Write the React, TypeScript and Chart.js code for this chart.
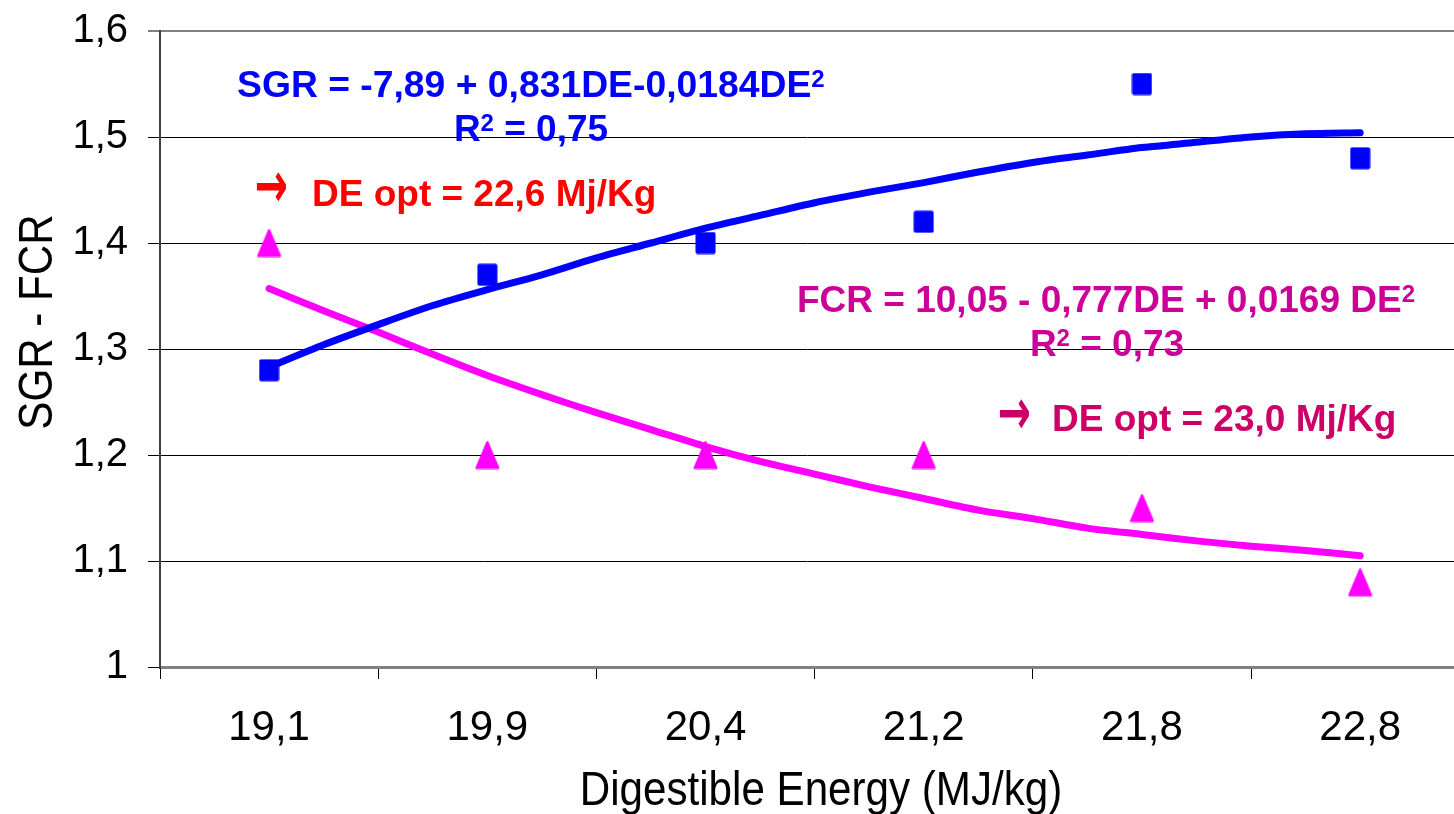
import React, { useEffect, useRef } from 'react';
import { Chart, registerables } from 'chart.js';

Chart.register(...registerables);

// ---------- data ----------
const categories = ['19,1', '19,9', '20,4', '21,2', '21,8', '22,8'];
const categoryIndex = [1, 2, 3, 4, 5, 6];
const sgrValues = [1.28, 1.37, 1.4, 1.42, 1.55, 1.48];
const fcrValues = [1.4, 1.2, 1.2, 1.2, 1.15, 1.08];

// trend lines (x in category-index units)
const trendX = [1, 1.25, 1.5, 1.75, 2, 2.25, 2.5, 2.75, 3, 3.25, 3.5, 3.75, 4, 4.25, 4.5, 4.75, 5, 5.25, 5.5, 5.75, 6];
const sgrTrend = [1.283, 1.304, 1.323, 1.341, 1.356, 1.37, 1.386, 1.4, 1.414, 1.426, 1.438, 1.448, 1.457, 1.467, 1.476, 1.483, 1.49, 1.495, 1.5, 1.503, 1.504];
const fcrTrend = [1.357, 1.336, 1.316, 1.295, 1.275, 1.257, 1.24, 1.224, 1.208, 1.194, 1.182, 1.17, 1.159, 1.148, 1.14, 1.131, 1.125, 1.119, 1.114, 1.11, 1.105];

const yTicks = [1, 1.1, 1.2, 1.3, 1.4, 1.5, 1.6];
const yTickLabels = ['1', '1,1', '1,2', '1,3', '1,4', '1,5', '1,6'];

const xTitle = 'Digestible Energy (MJ/kg)';
const yTitle = 'SGR - FCR';

// ---------- helpers ----------
const FONT = '"Liberation Sans", Arial, Helvetica, sans-serif';

function makeSquare(color: string) {
  const c = document.createElement('canvas');
  c.width = 21;
  c.height = 23;
  const g = c.getContext('2d')!;
  g.fillStyle = color;
  g.beginPath();
  (g as any).roundRect(0.5, 0.5, 20, 22, 2);
  g.fill();
  return c;
}

function makeTriangle(color: string) {
  const c = document.createElement('canvas');
  c.width = 25;
  c.height = 29;
  const g = c.getContext('2d')!;
  g.fillStyle = color;
  g.strokeStyle = color;
  g.lineJoin = 'round';
  g.lineWidth = 2;
  g.beginPath();
  g.moveTo(12.5, 1.5);
  g.lineTo(23.5, 27.5);
  g.lineTo(1.5, 27.5);
  g.closePath();
  g.fill();
  g.stroke();
  return c;
}

type Part = { t: string; sup?: boolean };

function drawRich(
  ctx: CanvasRenderingContext2D,
  parts: Part[],
  x: number,
  baseline: number,
  size: number,
  color: string,
  align: 'left' | 'center'
) {
  const supSize = Math.round(size * 0.65);
  const fontMain = `bold ${size}px ${FONT}`;
  const fontSup = `bold ${supSize}px ${FONT}`;
  let total = 0;
  for (const p of parts) {
    ctx.font = p.sup ? fontSup : fontMain;
    total += ctx.measureText(p.t).width;
  }
  let cx = align === 'center' ? x - total / 2 : x;
  ctx.fillStyle = color;
  ctx.textAlign = 'left';
  ctx.textBaseline = 'alphabetic';
  for (const p of parts) {
    ctx.font = p.sup ? fontSup : fontMain;
    const dy = p.sup ? -size * 0.27 : 0;
    ctx.fillText(p.t, cx, baseline + dy);
    cx += ctx.measureText(p.t).width;
  }
}

function drawArrow(ctx: CanvasRenderingContext2D, cx: number, cy: number, color: string) {
  ctx.save();
  ctx.fillStyle = color;
  ctx.font = `bold 64px "DejaVu Sans", ${FONT}`;
  ctx.textAlign = 'center';
  ctx.textBaseline = 'middle';
  ctx.translate(cx, cy);
  ctx.scale(0.62, 1);
  ctx.fillText('\u2192', 0, 0);
  ctx.restore();
}

const annotationPlugin = {
  id: 'annotations',
  afterDraw(chart: any) {
    const ctx: CanvasRenderingContext2D = chart.ctx;
    ctx.save();
    // equations
    drawRich(ctx, [{ t: 'SGR = -7,89 + 0,831DE-0,0184DE' }, { t: '2', sup: true }], 237, 97, 37.3, '#0000FF', 'left');
    drawRich(ctx, [{ t: 'R' }, { t: '2', sup: true }, { t: ' = 0,75' }], 531, 141, 37, '#0000FF', 'center');
    drawArrow(ctx, 271, 190, '#FF0000');
    drawRich(ctx, [{ t: 'DE opt = 22,6 Mj/Kg' }], 312, 206, 37, '#FF0000', 'left');

    drawRich(ctx, [{ t: 'FCR = 10,05 - 0,777DE + 0,0169 DE' }, { t: '2', sup: true }], 797, 312, 37, '#CC0099', 'left');
    drawRich(ctx, [{ t: 'R' }, { t: '2', sup: true }, { t: ' = 0,73' }], 1107, 356, 37, '#CC0099', 'center');
    drawArrow(ctx, 1014, 417, '#CC0066');
    drawRich(ctx, [{ t: 'DE opt = 23,0 Mj/Kg' }], 1052, 431, 37, '#CC0066', 'left');

    // axis titles (condensed)
    ctx.fillStyle = '#000';
    ctx.font = `49px ${FONT}`;
    ctx.textAlign = 'center';
    ctx.textBaseline = 'alphabetic';
    ctx.save();
    ctx.translate(821, 805);
    ctx.scale(0.86, 1);
    ctx.fillText(xTitle, 0, 0);
    ctx.restore();

    ctx.save();
    ctx.translate(52, 322);
    ctx.rotate(-Math.PI / 2);
    ctx.scale(0.86, 1);
    ctx.fillText(yTitle, 0, 0);
    ctx.restore();

    ctx.restore();
  },
};

export default function App() {
  const ref = useRef<HTMLCanvasElement | null>(null);

  useEffect(() => {
    if (!ref.current) return;
    const square = makeSquare('#0000FF');
    const triangle = makeTriangle('#FF00FF');

    const chart = new Chart(ref.current, {
      type: 'scatter',
      data: {
        datasets: [
          {
            label: 'SGR',
            data: categoryIndex.map((x, i) => ({ x, y: sgrValues[i] })),
            pointStyle: square as any,
            pointRadius: 12,
            showLine: false,
            backgroundColor: '#0000FF',
            clip: false,
          },
          {
            label: 'FCR',
            data: categoryIndex.map((x, i) => ({ x, y: fcrValues[i] })),
            pointStyle: triangle as any,
            pointRadius: 12,
            showLine: false,
            backgroundColor: '#FF00FF',
            clip: false,
          },
          {
            label: 'SGR trend',
            data: trendX.map((x, i) => ({ x, y: sgrTrend[i] })),
            showLine: true,
            pointRadius: 0,
            borderColor: '#0000FF',
            borderWidth: 7,
            borderCapStyle: 'round',
            borderJoinStyle: 'round',
            tension: 0.3,
          },
          {
            label: 'FCR trend',
            data: trendX.map((x, i) => ({ x, y: fcrTrend[i] })),
            showLine: true,
            pointRadius: 0,
            borderColor: '#FF00FF',
            borderWidth: 7,
            borderCapStyle: 'round',
            borderJoinStyle: 'round',
            tension: 0.3,
          },
        ],
      },
      options: {
        responsive: false,
        animation: false,
        events: [],
        layout: { autoPadding: false, padding: { top: 31, right: 0, left: 0, bottom: 0 } },
        plugins: {
          legend: { display: false },
          tooltip: { enabled: false },
          title: { display: false },
        },
        scales: {
          x: {
            type: 'linear',
            min: 0.5,
            max: 6.43,
            afterBuildTicks: (scale: any) => {
              scale.ticks = categoryIndex.map((v) => ({ value: v }));
            },
            afterFit: (scale: any) => {
              scale.height = 147;
              scale.paddingLeft = 0;
              scale.paddingRight = 0;
            },
            grid: {
              offset: true,
              drawOnChartArea: false,
              drawTicks: true,
              tickLength: 12,
              tickColor: '#000',
              tickWidth: 1,
            },
            border: { display: true, color: '#808080', width: 3 },
            ticks: {
              autoSkip: false,
              maxRotation: 0,
              color: '#000',
              padding: 24,
              font: { family: FONT, size: 42 },
              callback: (_v: any, i: number) => categories[i],
            },
          },
          y: {
            type: 'linear',
            min: 1,
            max: 1.6,
            afterBuildTicks: (scale: any) => {
              scale.ticks = yTicks.map((v) => ({ value: v }));
            },
            afterFit: (scale: any) => {
              scale.width = 160;
              scale.paddingTop = 0;
              scale.paddingBottom = 0;
            },
            grid: {
              color: (c: any) => {
                const v = c.tick ? c.tick.value : 0;
                return v === 1.6 || v === 1 ? '#808080' : '#000';
              },
              lineWidth: (c: any) => {
                const v = c.tick ? c.tick.value : 0;
                return v === 1.6 ? 2 : v === 1 ? 3 : 1;
              },
              drawTicks: true,
              tickLength: 12,
              tickColor: '#000',
              tickWidth: 1,
            },
            border: { display: true, color: '#404040', width: 2 },
            ticks: {
              color: '#000',
              padding: 20,
              font: { family: FONT, size: 40 },
              callback: (_v: any, i: number) => yTickLabels[i],
            },
          },
        },
      },
      plugins: [annotationPlugin],
    } as any);

    return () => chart.destroy();
  }, []);

  return (
    <canvas
      ref={ref}
      width={1454}
      height={814}
      style={{ position: 'absolute', left: 0, top: 0, width: 1454, height: 814, display: 'block', background: '#fff' }}
    />
  );
}
